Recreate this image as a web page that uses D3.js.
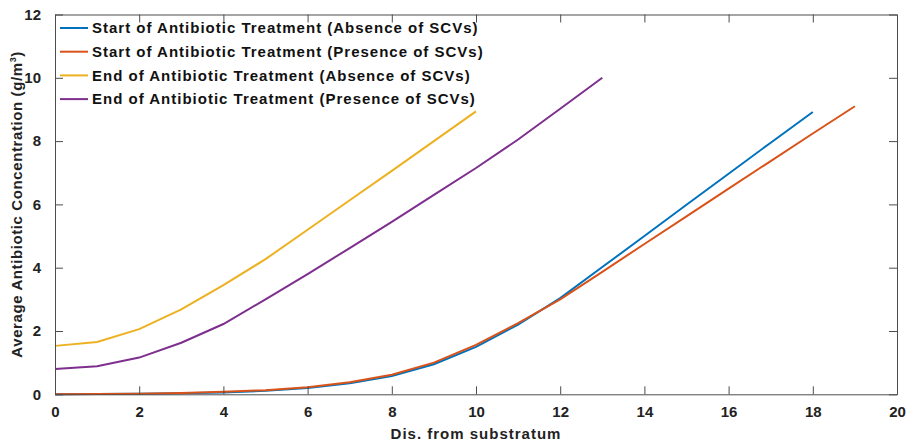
<!DOCTYPE html>
<html>
<head>
<meta charset="utf-8">
<script src="https://cdn.jsdelivr.net/npm/d3@7"></script>
<style>
  body { margin: 0; background: #fff; }
  text { font-family: "Liberation Sans", Arial, sans-serif; font-weight: bold; }
</style>
</head>
<body>
<div id="grafico"></div>
<script>
// ==============================
// DATOS
// ==============================

const distancias = [0, 1, 2, 3, 4, 5, 6, 7, 8, 9, 10, 11, 12, 13, 14, 15, 16, 17, 18, 19];

const inicioAusencia = [0, 0.01, 0.02, 0.03, 0.06, 0.11, 0.2, 0.35, 0.58, 0.95, 1.5, 2.2, 3.04, 4.02, 5.0, 5.99, 6.97, 7.95, 8.92];
const inicioPresencia = [0, 0.01, 0.02, 0.04, 0.08, 0.13, 0.22, 0.38, 0.62, 1.0, 1.56, 2.25, 3.0, 3.87, 4.75, 5.62, 6.5, 7.37, 8.24, 9.1];
const finAusencia = [1.53, 1.65, 2.06, 2.68, 3.45, 4.27, 5.2, 6.13, 7.06, 8.0, 8.94];
const finPresencia = [0.8, 0.89, 1.16, 1.63, 2.22, 3.0, 3.8, 4.62, 5.45, 6.3, 7.15, 8.05, 9.02, 10.0];

const series = [
  { nombre: "Start of Antibiotic Treatment (Absence of SCVs)", valores: inicioAusencia, color: "#0072BD" },
  { nombre: "Start of Antibiotic Treatment (Presence of SCVs)", valores: inicioPresencia, color: "#D95319" },
  { nombre: "End of Antibiotic Treatment (Absence of SCVs)", valores: finAusencia, color: "#EDB120" },
  { nombre: "End of Antibiotic Treatment (Presence of SCVs)", valores: finPresencia, color: "#7E2F8E" }
];

const ticksX = [0, 2, 4, 6, 8, 10, 12, 14, 16, 18, 20];
const ticksY = [0, 2, 4, 6, 8, 10, 12];

// ==============================
// CONFIGURACIÓN
// ==============================

const width = 906;
const height = 444;
const margin = { top: 14.5, right: 9, bottom: 49.7, left: 55 };

const svg = d3.select("#grafico")
  .append("svg")
  .attr("width", width)
  .attr("height", height);

const x = d3.scaleLinear().domain([0, 20]).range([margin.left, width - margin.right]);
const y = d3.scaleLinear().domain([0, 12]).range([height - margin.bottom, margin.top]);

const colorEje = "#4d4d4d";
const tickLen = 8;

// Líneas de datos
const linea = d3.line()
  .x((d, i) => x(distancias[i]))
  .y(d => y(d));

svg.append("g")
  .selectAll("path")
  .data(series)
  .join("path")
  .attr("d", d => linea(d.valores))
  .attr("fill", "none")
  .attr("stroke", d => d.color)
  .attr("stroke-width", 2);

// Ejes con ticks hacia dentro en los cuatro lados
svg.append("g")
  .attr("transform", `translate(0,${y(0)})`)
  .call(d3.axisBottom(x).tickValues(ticksX).tickSize(-tickLen).tickPadding(12).tickSizeOuter(0))
  .call(g => g.selectAll("text").attr("font-size", 15).attr("fill", "#222"));

svg.append("g")
  .attr("transform", `translate(0,${y(12)})`)
  .call(d3.axisTop(x).tickValues(ticksX).tickSize(-tickLen).tickFormat("").tickSizeOuter(0));

svg.append("g")
  .attr("transform", `translate(${x(0)},0)`)
  .call(d3.axisLeft(y).tickValues(ticksY).tickSize(-tickLen).tickPadding(14).tickSizeOuter(0))
  .call(g => g.selectAll("text").attr("font-size", 15).attr("fill", "#222"));

svg.append("g")
  .attr("transform", `translate(${x(20)},0)`)
  .call(d3.axisRight(y).tickValues(ticksY).tickSize(-tickLen).tickFormat("").tickSizeOuter(0));

svg.selectAll(".domain, .tick line")
  .attr("stroke", colorEje)
  .attr("stroke-width", 1);

svg.selectAll(".tick text").style("font-family", "'Liberation Sans', Arial, sans-serif");

// Etiquetas de los ejes
svg.append("text")
  .attr("x", (x(0) + x(20)) / 2)
  .attr("y", 439)
  .attr("text-anchor", "middle")
  .attr("font-size", 15)
  .attr("letter-spacing", 1)
  .attr("fill", "#222")
  .text("Dis. from substratum");

const etiquetaY = svg.append("text")
  .attr("transform", `translate(22,${(y(0) + y(12)) / 2}) rotate(-90)`)
  .attr("text-anchor", "middle")
  .attr("font-size", 15)
  .attr("letter-spacing", 0.6)
  .attr("fill", "#222");
etiquetaY.append("tspan").text("Average Antibiotic Concentration (g/m");
etiquetaY.append("tspan").attr("font-size", 9).attr("dy", -6).text("3");
etiquetaY.append("tspan").attr("dy", 6).text(")");

// Leyenda
const leyenda = svg.append("g")
  .selectAll("g")
  .data(series)
  .join("g")
  .attr("transform", (d, i) => `translate(60,${28 + i * 23.7})`);

leyenda.append("line")
  .attr("x1", 0).attr("x2", 28)
  .attr("stroke", d => d.color)
  .attr("stroke-width", 2);

leyenda.append("text")
  .attr("x", 32)
  .attr("dy", "0.35em")
  .attr("font-size", 15)
  .attr("letter-spacing", 1)
  .attr("fill", "#111")
  .text(d => d.nombre);
</script>
</body>
</html>
